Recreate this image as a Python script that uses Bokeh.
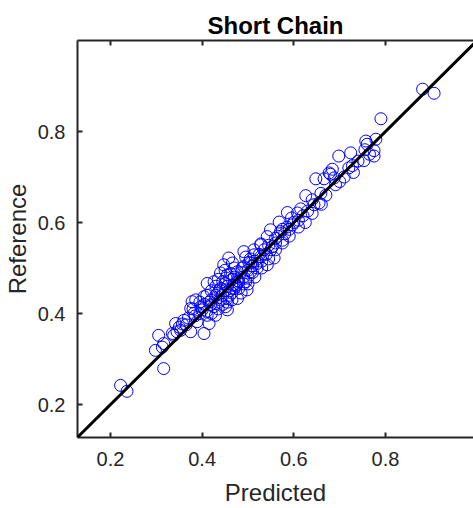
from bokeh.plotting import figure
from bokeh.models import Range1d, LinearAxis, Slope, FixedTicker, ColumnDataSource
from bokeh.embed import file_html
from bokeh.resources import INLINE

# Predicted vs reference values for the short-chain fraction
predicted = [
    0.881, 0.906, 0.790, 0.757, 0.779, 0.760, 0.775, 0.775, 0.753, 0.724,
    0.698, 0.728, 0.720, 0.684, 0.680, 0.688, 0.648, 0.666, 0.691, 0.677,
    0.626, 0.659, 0.655, 0.644, 0.586, 0.608, 0.568, 0.597, 0.549, 0.571,
    0.542, 0.575, 0.528, 0.553, 0.513, 0.495, 0.528, 0.557, 0.506, 0.491,
    0.542, 0.528, 0.491, 0.513, 0.458, 0.447, 0.466, 0.477, 0.506, 0.440,
    0.411, 0.426, 0.451, 0.473, 0.498, 0.386, 0.404, 0.433, 0.455, 0.477,
    0.418, 0.451, 0.375, 0.400, 0.429, 0.455, 0.360, 0.389, 0.415, 0.353,
    0.375, 0.338, 0.404, 0.222, 0.236, 0.316, 0.298, 0.305, 0.316, 0.313,
    0.335, 0.342, 0.357, 0.382, 0.378, 0.397, 0.411,
    0.420, 0.435, 0.445, 0.460, 0.470, 0.480, 0.490, 0.500, 0.510, 0.520,
    0.430, 0.440, 0.455, 0.465, 0.485, 0.495, 0.505, 0.515, 0.525, 0.535,
    0.545, 0.460, 0.470, 0.480, 0.450, 0.440, 0.425, 0.415, 0.405, 0.395,
    0.385, 0.410, 0.420, 0.435, 0.445, 0.465, 0.475, 0.490, 0.500, 0.510,
    0.520, 0.530, 0.540, 0.550, 0.560, 0.565, 0.580, 0.590, 0.600, 0.610,
    0.620, 0.630, 0.640, 0.615, 0.595, 0.585, 0.575, 0.560, 0.470, 0.455,
    0.445, 0.430, 0.420, 0.410, 0.395, 0.380, 0.370, 0.365, 0.350, 0.345,
    0.455, 0.465, 0.485, 0.500, 0.515, 0.530, 0.545, 0.560, 0.575, 0.590,
    0.610, 0.625, 0.640, 0.660, 0.670, 0.700, 0.710, 0.730, 0.740, 0.765,
    0.755, 0.435, 0.450, 0.462, 0.478, 0.488, 0.452, 0.468, 0.438, 0.502,
]
reference = [
    0.893, 0.884, 0.828, 0.779, 0.783, 0.772, 0.758, 0.746, 0.736, 0.753,
    0.746, 0.725, 0.720, 0.717, 0.706, 0.698, 0.696, 0.696, 0.683, 0.709,
    0.659, 0.664, 0.643, 0.639, 0.622, 0.621, 0.601, 0.595, 0.584, 0.580,
    0.569, 0.561, 0.551, 0.547, 0.540, 0.524, 0.525, 0.522, 0.511, 0.503,
    0.507, 0.553, 0.536, 0.529, 0.522, 0.507, 0.511, 0.492, 0.492, 0.489,
    0.466, 0.470, 0.466, 0.463, 0.452, 0.430, 0.437, 0.444, 0.433, 0.433,
    0.419, 0.415, 0.411, 0.408, 0.396, 0.408, 0.385, 0.382, 0.378, 0.363,
    0.360, 0.352, 0.356, 0.242, 0.229, 0.279, 0.319, 0.352, 0.334, 0.326,
    0.356, 0.378, 0.377, 0.400, 0.426, 0.415, 0.396,
    0.430, 0.425, 0.440, 0.450, 0.455, 0.470, 0.480, 0.495, 0.505, 0.510,
    0.440, 0.455, 0.460, 0.475, 0.490, 0.470, 0.520, 0.515, 0.530, 0.540,
    0.550, 0.440, 0.480, 0.455, 0.450, 0.430, 0.415, 0.425, 0.420, 0.400,
    0.395, 0.405, 0.400, 0.410, 0.420, 0.445, 0.462, 0.465, 0.480, 0.490,
    0.500, 0.515, 0.530, 0.540, 0.555, 0.570, 0.575, 0.585, 0.600, 0.605,
    0.615, 0.625, 0.650, 0.630, 0.610, 0.590, 0.585, 0.565, 0.500, 0.485,
    0.470, 0.460, 0.450, 0.440, 0.425, 0.410, 0.390, 0.375, 0.370, 0.360,
    0.425, 0.430, 0.445, 0.465, 0.480, 0.500, 0.520, 0.540, 0.555, 0.570,
    0.590, 0.600, 0.620, 0.640, 0.660, 0.690, 0.700, 0.710, 0.735, 0.750,
    0.760, 0.475, 0.495, 0.488, 0.472, 0.500, 0.478, 0.462, 0.452, 0.512,
]

tick_values = [0.2, 0.4, 0.6, 0.8]
x_limits = (0.128, 0.992)
y_limits = (0.1275, 1.0)

ink = "#262626"
font = "Liberation Sans"

p = figure(
    width=473, height=508,
    x_range=Range1d(*x_limits), y_range=Range1d(*y_limits),
    output_backend="svg", toolbar_location=None,
    title="Short Chain",
    min_border_left=77, min_border_right=0,
    min_border_top=40, min_border_bottom=71,
)
p.outline_line_color = None
p.grid.visible = False
p.background_fill_color = "white"
p.border_fill_color = "white"

p.title.align = "center"
p.title.text_font = font
p.title.text_font_size = "24px"
p.title.text_font_style = "bold"
p.title.text_color = "black"
p.title.offset = 0
p.title.standoff = 4

def style_axis(ax, show_labels=True):
    ax.ticker = FixedTicker(ticks=tick_values)
    ax.axis_line_color = ink
    ax.axis_line_width = 2
    ax.major_tick_line_color = ink
    ax.major_tick_line_width = 2
    ax.major_tick_in = 5
    ax.major_tick_out = 0
    ax.minor_tick_line_color = None
    ax.major_label_text_font = font
    ax.major_label_text_color = ink
    ax.axis_label_text_font = font
    ax.axis_label_text_color = ink
    ax.axis_label_text_font_style = "normal"
    if show_labels:
        ax.major_label_text_font_size = "20px"
        ax.axis_label_text_font_size = "24px"
    else:
        # tick marks only along the top edge
        ax.major_label_overrides = {t: "" for t in tick_values}
        ax.major_label_standoff = 0

style_axis(p.xaxis[0])
style_axis(p.yaxis[0])
p.xaxis[0].axis_label = "Predicted"
p.yaxis[0].axis_label = "Reference"
p.xaxis[0].major_label_standoff = 14
p.yaxis[0].major_label_standoff = 12
p.xaxis[0].axis_label_standoff = 10
p.yaxis[0].axis_label_standoff = 4

top_axis = LinearAxis()
style_axis(top_axis, show_labels=False)
p.add_layout(top_axis, "above")

src = ColumnDataSource(data=dict(x=predicted, y=reference))
p.scatter("x", "y", source=src, marker="circle", size=12,
          fill_color=None, line_color="#0000FF", line_width=1)

# identity line y = x
p.add_layout(Slope(gradient=1, y_intercept=0, line_color="black", line_width=3))

open("out.html", "w").write(file_html(p, INLINE))
